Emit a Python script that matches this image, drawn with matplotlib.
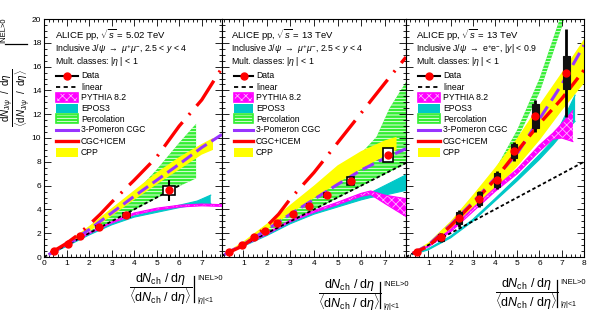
import numpy as np
import matplotlib
matplotlib.use('Agg')
import matplotlib.pyplot as plt
from matplotlib.lines import Line2D
from matplotlib.patches import Rectangle
from matplotlib.ticker import MultipleLocator, FixedLocator

plt.rcParams['font.family'] = ['Liberation Sans', 'DejaVu Sans']
plt.rcParams['mathtext.fontset'] = 'custom'
plt.rcParams['mathtext.rm'] = 'Liberation Sans'
plt.rcParams['mathtext.it'] = 'Liberation Sans:italic'
plt.rcParams['mathtext.bf'] = 'Liberation Sans:bold'
plt.rcParams['lines.scale_dashes'] = False
plt.rcParams['hatch.linewidth'] = 0.6

# ---------------- data ----------------
# Panel 1: pp 5.02 TeV, forward
x1 = [0.44, 1.08, 1.60, 2.43, 3.66, 5.55]
y1 = [0.50, 1.12, 1.74, 2.50, 3.53, 5.60]
stat1 = [0.04, 0.05, 0.07, 0.10, 0.18, 0.90]
sysy1 = [0.03, 0.05, 0.07, 0.10, 0.18, 0.35]
sysx1 = [0.05, 0.06, 0.08, 0.10, 0.14, 0.26]

# Panel 2: pp 13 TeV, forward
x2 = [0.38, 0.95, 1.44, 1.93, 2.45, 3.12, 3.79, 4.54, 5.55, 7.14]
y2 = [0.45, 1.00, 1.65, 2.18, 2.83, 3.58, 4.31, 5.21, 6.39, 8.57]
stat2 = [0.02, 0.03, 0.04, 0.05, 0.06, 0.08, 0.10, 0.15, 0.25, 0.60]
sysy2 = [0.03, 0.04, 0.05, 0.07, 0.09, 0.12, 0.15, 0.20, 0.32, 0.57]
sysx2 = [0.05, 0.05, 0.06, 0.07, 0.08, 0.09, 0.10, 0.11, 0.15, 0.20]

# Panel 3: pp 13 TeV, midrapidity
x3 = [0.49, 1.57, 2.38, 3.30, 4.08, 4.87, 5.81, 7.20]
y3 = [0.45, 1.65, 3.25, 4.88, 6.45, 8.90, 11.87, 15.50]
stat3 = [0.10, 0.35, 0.73, 0.70, 0.75, 0.80, 1.35, 3.70]
sysy3 = [0.05, 0.30, 0.50, 0.55, 0.60, 0.56, 1.00, 1.40]
sysx3 = [0.10, 0.12, 0.12, 0.12, 0.13, 0.13, 0.15, 0.15]

# models panel 1
lin1_x = [0.0, 6.1]
pyth1_x = [0.3, 1, 2, 3, 4, 5, 6, 7, 7.9]
pyth1_lo = [0.30, 1.00, 1.95, 2.85, 3.55, 3.95, 4.20, 4.30, 4.25]
pyth1_hi = [0.35, 1.05, 2.05, 2.95, 3.70, 4.10, 4.35, 4.45, 4.40]
epos1_x = [0.3, 1, 2, 3, 4, 5, 6, 6.8, 7.4]
epos1_lo = [0.25, 0.90, 1.85, 2.70, 3.35, 3.75, 4.15, 4.40, 4.50]
epos1_hi = [0.30, 0.97, 1.95, 2.80, 3.45, 3.90, 4.35, 4.70, 5.20]
perc1_x = [2.0, 3, 4, 5, 6, 6.75]
perc1_lo = [2.00, 2.95, 3.95, 4.95, 5.95, 6.60]
perc1_hi = [2.10, 3.60, 5.30, 7.35, 9.60, 11.20]
pom1_x = [0.2, 1, 2, 3, 4, 5, 6, 7, 7.9]
pom1_y = [0.20, 1.05, 2.30, 3.70, 5.10, 6.45, 7.80, 9.20, 10.30]
cgc1_x = [0.3, 1, 1.5, 2, 2.5, 3, 4, 5, 6, 7, 7.9]
cgc1_y = [0.35, 1.15, 1.85, 2.70, 3.60, 4.60, 6.45, 8.40, 11.00, 13.20, 15.90]
cpp1_x = [0.2, 1, 2, 3, 4, 5, 6, 7, 7.5]
cpp1_lo = [0.15, 0.95, 2.15, 3.45, 4.80, 6.10, 7.35, 8.60, 9.00]
cpp1_hi = [0.30, 1.20, 2.60, 4.10, 5.60, 7.10, 8.40, 9.50, 10.00]

# models panel 2
lin2_x = [0.1, 7.9]
pyth2_x = [0.3, 1, 2, 3, 4, 5, 6, 6.4, 7, 7.9]
pyth2_lo = [0.35, 0.95, 1.90, 2.95, 3.75, 4.40, 5.10, 5.25, 4.50, 3.40]
pyth2_hi = [0.45, 1.05, 2.00, 3.10, 3.90, 4.60, 5.35, 5.55, 5.20, 4.90]
epos2_x = [0.3, 1, 2, 3, 4, 5, 6, 6.4, 7, 7.9]
epos2_lo = [0.30, 0.90, 1.80, 2.80, 3.60, 4.20, 4.80, 5.00, 5.20, 5.60]
epos2_hi = [0.40, 1.00, 1.90, 2.95, 3.75, 4.40, 5.10, 5.40, 6.00, 6.90]
perc2_x = [1, 2, 3, 4, 5, 5.8, 6.65, 7.2, 7.9]
perc2_lo = [0.95, 1.95, 2.95, 3.95, 4.95, 5.75, 6.60, 7.15, 7.85]
perc2_hi = [1.05, 2.50, 3.80, 5.20, 6.80, 8.30, 10.10, 12.50, 14.70]
pom2_x = [0.2, 1, 2, 3, 4, 5, 6, 7, 7.9]
pom2_y = [0.20, 1.05, 2.30, 3.60, 4.85, 6.10, 7.30, 8.30, 9.10]
cgc2_x = [0.3, 1, 1.5, 2, 2.5, 3, 4, 5, 6, 7, 7.9]
cgc2_y = [0.30, 0.95, 1.70, 2.60, 3.60, 4.90, 7.10, 9.60, 12.10, 14.60, 16.80]
cpp2_x = [0.2, 1, 2, 3, 4, 5, 6, 7, 7.5]
cpp2_lo = [0.20, 1.05, 2.30, 3.65, 4.95, 6.20, 7.40, 8.50, 9.00]
cpp2_hi = [0.30, 1.30, 2.80, 4.40, 6.00, 7.70, 8.90, 9.80, 10.10]

# models panel 3
lin3_x = [0.0, 8.0]
pyth3_x = [0.3, 1, 2, 3, 4, 5, 6, 6.6, 7.0, 7.5]
pyth3_lo = [0.30, 0.85, 2.10, 3.80, 5.50, 7.00, 8.90, 9.90, 10.00, 9.70]
pyth3_hi = [0.35, 0.95, 2.30, 4.10, 5.80, 7.40, 9.40, 10.40, 11.20, 12.30]
epos3_x = [0.3, 1, 2, 3, 4, 5, 6, 6.6, 7.0, 7.6]
epos3_lo = [0.20, 0.60, 1.60, 3.00, 4.70, 6.40, 8.20, 9.40, 10.30, 11.40]
epos3_hi = [0.25, 0.70, 1.75, 3.15, 4.90, 6.70, 8.60, 9.80, 11.30, 13.60]
perc3_x = [1, 2, 3, 4, 5, 6, 7, 7.2]
perc3_lo = [0.90, 2.40, 4.30, 6.80, 9.90, 13.80, 19.30, 20.50]
perc3_hi = [1.10, 2.60, 4.70, 7.30, 10.70, 15.00, 20.50, 21.50]
pom3_x = [0.3, 1, 2, 3, 4, 5, 6, 7, 8]
pom3_y = [0.30, 1.00, 2.70, 4.60, 6.60, 8.70, 11.60, 14.50, 17.80]
cgc3_x = [0.3, 1, 2, 3, 4, 5, 6, 7, 8]
cgc3_y = [0.30, 0.90, 2.60, 4.50, 6.50, 8.90, 11.20, 13.30, 15.70]
cpp3_x = [0.3, 1, 2, 3, 4, 5, 6, 7, 8]
cpp3_lo = [0.20, 0.80, 2.20, 3.80, 5.60, 7.60, 9.80, 12.30, 14.60]
cpp3_hi = [0.40, 1.20, 3.00, 5.20, 7.50, 10.00, 12.80, 15.50, 18.30]

legend_labels = ['Data', 'linear', 'PYTHIA 8.2', 'EPOS3', 'Percolation',
                 '3-Pomeron CGC', 'CGC+ICEM', 'CPP']

# ---------------- style ----------------
C_PYTH = '#ff00ff'
C_EPOS = '#00c8c8'
C_PERC = '#33ee33'
C_POM = '#9933ff'
C_CGC = '#ff0000'
C_CPP = '#ffff00'

W, H = 599, 315
fig = plt.figure(figsize=(W / 100, H / 100), dpi=100)
T = fig.transFigure


def fx(p):
    return p / W


def fy(p):
    return 1 - p / H


top, bot = 19, 257
panel_px = [(44, 222, (0, 7.9), list(range(0, 8))),
            (222, 406, (0.1, 7.9), list(range(1, 8))),
            (406, 584, (0, 8), list(range(1, 9)))]
axes = []
for i, (l, r, xl, xt) in enumerate(panel_px):
    ax = fig.add_axes([fx(l), fy(bot), (r - l) / W, (bot - top) / H])
    ax.set_xlim(*xl)
    ax.set_ylim(0, 20)
    ax.xaxis.set_major_locator(FixedLocator(xt))
    ax.xaxis.set_minor_locator(MultipleLocator(0.2))
    ax.yaxis.set_major_locator(MultipleLocator(2))
    ax.yaxis.set_minor_locator(MultipleLocator(0.5))
    ax.tick_params(which='both', direction='in', top=True, right=True,
                   labelsize=6, width=0.6, pad=2)
    ax.tick_params(which='major', length=5)
    ax.tick_params(which='minor', length=2.5)
    if i > 0:
        ax.tick_params(labelleft=False)
    for s in ax.spines.values():
        s.set_linewidth(0.8)
    axes.append(ax)


def band(ax, x, lo, hi, fc, hatch=None, hc='white', z=1, edge=None):
    ax.fill_between(x, lo, hi, facecolor=fc,
                    edgecolor=hc if hatch else 'none', hatch=hatch,
                    linewidth=0, zorder=z)
    if edge is not None:
        ax.plot(x, lo, color=edge, lw=0.8, zorder=z + 0.1)
        ax.plot(x, hi, color=edge, lw=0.8, zorder=z + 0.1)


def data(ax, x, y, st, sy, sx, filled):
    for xi, yi, s, b, a in zip(x, y, st, sy, sx):
        ax.vlines(xi, yi - s, yi + s, color='black', lw=2.0 if filled else 1.5, zorder=10)
        if filled:
            ax.add_patch(Rectangle((xi - a, yi - b), 2 * a, 2 * b, facecolor='#111111',
                                   edgecolor='#111111', lw=0.8, zorder=11))
        else:
            ax.add_patch(Rectangle((xi - a, yi - b), 2 * a, 2 * b, facecolor='white',
                                   edgecolor='black', lw=1.2, zorder=11))
    ax.plot(x, y, 'o', ms=5, mfc='red', mec='red', zorder=12)


dashdot = (0, (22, 7, 1.5, 7))
longdash = (0, (10, 5))
pomdash = (0, (9, 4))
lindash = (0, (2.5, 1.8))

# panel 1
ax = axes[0]
band(ax, perc1_x, perc1_lo, perc1_hi, C_PERC, hatch='-----', z=1)
band(ax, cpp1_x, cpp1_lo, cpp1_hi, C_CPP, z=2)
band(ax, epos1_x, epos1_lo, epos1_hi, C_EPOS, z=3, edge=C_EPOS)
band(ax, pyth1_x, pyth1_lo, pyth1_hi, C_PYTH, hatch='xxxx', hc='#ffb0ff', z=4, edge=C_PYTH)
ax.plot(lin1_x, lin1_x, color='black', lw=1.3, ls=lindash, zorder=5)
ax.plot(pom1_x, pom1_y, color=C_POM, lw=2.2, ls=pomdash, zorder=6)
ax.plot(cgc1_x, cgc1_y, color=C_CGC, lw=2.4, ls=dashdot, zorder=7)
data(ax, x1, y1, stat1, sysy1, sysx1, False)

# panel 2
ax = axes[1]
band(ax, perc2_x, perc2_lo, perc2_hi, C_PERC, hatch='-----', z=1)
band(ax, cpp2_x, cpp2_lo, cpp2_hi, C_CPP, z=2)
band(ax, epos2_x, epos2_lo, epos2_hi, C_EPOS, z=3, edge=C_EPOS)
band(ax, pyth2_x, pyth2_lo, pyth2_hi, C_PYTH, hatch='xxxx', hc='#ffb0ff', z=4, edge=C_PYTH)
ax.plot(lin2_x, lin2_x, color='black', lw=1.3, ls=lindash, zorder=5)
ax.plot(pom2_x, pom2_y, color=C_POM, lw=2.2, ls=pomdash, zorder=6)
ax.plot(cgc2_x, cgc2_y, color=C_CGC, lw=2.4, ls=dashdot, zorder=7)
data(ax, x2, y2, stat2, sysy2, sysx2, False)

# panel 3
ax = axes[2]
band(ax, perc3_x, perc3_lo, perc3_hi, C_PERC, hatch='-----', z=1)
band(ax, cpp3_x, cpp3_lo, cpp3_hi, C_CPP, z=2)
band(ax, epos3_x, epos3_lo, epos3_hi, C_EPOS, z=3, edge=C_EPOS)
band(ax, pyth3_x, pyth3_lo, pyth3_hi, C_PYTH, hatch='xxxx', hc='#ffb0ff', z=4, edge=C_PYTH)
ax.plot(lin3_x, lin3_x, color='black', lw=1.3, ls=lindash, zorder=5)
ax.plot(pom3_x, pom3_y, color=C_POM, lw=2.2, ls=longdash, zorder=6)
ax.plot(cgc3_x, cgc3_y, color=C_CGC, lw=2.4, ls=longdash, zorder=7)
data(ax, x3, y3, stat3, sysy3, sysx3, True)

# ---------------- texts & legends ----------------
headers = [
    (55, [r'ALICE pp, $\sqrt{s}$ = 5.02 TeV',
          r'Inclusive J/$\psi$ $\rightarrow$ $\mu^{+}\mu^{-}$, 2.5 < $y$ < 4',
          r'Mult. classes: |$\eta$ | < 1']),
    (231, [r'ALICE pp, $\sqrt{s}$ = 13 TeV',
           r'Inclusive J/$\psi$ $\rightarrow$ $\mu^{+}\mu^{-}$, 2.5 < $y$ < 4',
           r'Mult. classes: |$\eta$ | < 1']),
    (416, [r'ALICE pp, $\sqrt{s}$ = 13 TeV',
           r'Inclusive J/$\psi$ $\rightarrow$ e$^{+}$e$^{-}$, |$y$| < 0.9',
           r'Mult. classes: |$\eta$ | < 1']),
]
for xp, lines in headers:
    for j, (t, yp, fs) in enumerate(zip(lines, [35, 49, 61.5], [6.8, 6.3, 6.3])):
        fig.text(fx(xp), fy(yp), t, fontsize=fs, ha='left', va='center')

leg_pos = [(56, 78, 81), (234, 253, 256), (418, 440, 443)]
leg_y = [76, 87, 98, 108.5, 119, 130, 141, 152]
for (a, b, tx) in leg_pos:
    for k, (lab, yp) in enumerate(zip(legend_labels, leg_y)):
        yc = fy(yp)
        if lab == 'Data':
            fig.add_artist(Line2D([fx(a), fx(b)], [yc, yc], color='black', lw=1.5, transform=T))
            fig.add_artist(Line2D([fx((a + b) / 2)], [yc], marker='o', ms=5, mfc='red',
                                  mec='red', transform=T))
        elif lab == 'linear':
            fig.add_artist(Line2D([fx(a), fx(b)], [yc, yc], color='black', lw=1.3,
                                  ls=(0, (3, 2.5)), transform=T))
        elif lab == '3-Pomeron CGC':
            fig.add_artist(Line2D([fx(a), fx(b)], [yc, yc], color=C_POM, lw=2.2, transform=T))
        elif lab == 'CGC+ICEM':
            fig.add_artist(Line2D([fx(a), fx(b)], [yc, yc], color=C_CGC, lw=2.4, transform=T))
        else:
            fc = {'PYTHIA 8.2': C_PYTH, 'EPOS3': C_EPOS, 'Percolation': C_PERC,
                  'CPP': C_CPP}[lab]
            hatch = {'PYTHIA 8.2': 'xxxx', 'Percolation': '-----'}.get(lab)
            hc = '#ffb0ff' if lab == 'PYTHIA 8.2' else 'white'
            fig.add_artist(Rectangle((fx(a), fy(yp + 4.5)), fx(b - a), 9 / H,
                                     facecolor=fc, edgecolor=hc if hatch else 'none',
                                     hatch=hatch, lw=0, transform=T))
            if lab in ('PYTHIA 8.2', 'Percolation'):
                fig.add_artist(Rectangle((fx(a), fy(yp + 4.5)), fx(b - a), 9 / H,
                                         facecolor='none', edgecolor=fc, lw=1.2, transform=T))
        fig.text(fx(tx), yc, lab, fontsize=6.2, ha='left', va='center')

# y-axis title: fraction + evaluation bar + superscript
yfrac = (r'$\dfrac{\mathrm{d}N_{\mathrm{J}/\psi}\ \ /\ \ \mathrm{d}\eta}'
         r'{\langle\mathrm{d}N_{\mathrm{J}/\psi}\ \ /\ \ \mathrm{d}\eta\rangle}$')
fig.text(fx(15.5), fy(98), yfrac, rotation=90, fontsize=7.0, ha='center', va='center')
fig.add_artist(Line2D([fx(5), fx(27)], [fy(44), fy(44)], color='black', lw=0.9, transform=T))
fig.text(fx(4), fy(30), 'INEL>0', rotation=90, fontsize=5.5, ha='center', va='center')

# x-axis titles
xfrac = (r'$\dfrac{\mathrm{d}N_{\mathrm{ch}}\ /\ \mathrm{d}\eta}'
         r'{\langle\mathrm{d}N_{\mathrm{ch}}\ /\ \mathrm{d}\eta\rangle}$')
xlab_pos = [(161, 289, 194, 276, 302), (350, 295, 380, 282, 308), (527, 294, 557, 280, 307)]
for cx, cy, bx, b0, b1 in xlab_pos:
    fig.text(fx(cx), fy(cy), xfrac, fontsize=9, ha='center', va='center')
    fig.add_artist(Line2D([fx(bx), fx(bx)], [fy(b0), fy(b1)], color='black', lw=0.9,
                          transform=T))
    fig.text(fx(bx + 3), fy(b0 + 2), 'INEL>0', fontsize=5.5, ha='left', va='center')
    fig.text(fx(bx + 3), fy(b1 - 2), r'|$\eta$|<1', fontsize=5, ha='left', va='center')

fig.savefig('out.png', dpi=100)
